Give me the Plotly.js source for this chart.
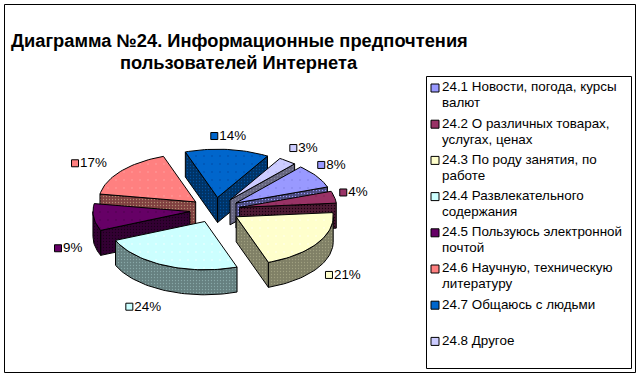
<!DOCTYPE html>
<html><head><meta charset="utf-8">
<script src="https://cdn.plot.ly/plotly-3.0.1.min.js"></script>
<style>html,body{margin:0;padding:0;background:#fff}#c{width:641px;height:377px}</style>
</head><body><div id="c"></div>
<script>
const categories = ["24.1 Новости, погода, курсы|валют","24.2 О различных товарах,|услугах, ценах","24.3 По роду занятия, по|работе","24.4 Развлекательного|содержания","24.5 Пользуюсь электронной|почтой","24.6 Научную, техническую|литературу","24.7 Общаюсь с людьми","24.8 Другое"];
const values = [8,4,21,24,9,17,14,3];
const topColors = ["#9999FF","#993366","#FFFFCC","#CCFFFF","#660066","#FF8080","#0066CC","#CCCCFF"];
const topDots = ["#7777DD","#77224D","#FFFFFF","#FFFFFF","#440044","#FFA8A8","#003F99","#AAAAEE"];
const sideColors = ["#4C4C80","#4D1A33","#808066","#668080","#330033","#804040","#003366","#666680"];
const sideDots = ["#9999FF","#1A0010","#A0A080","#88A8A8","#1A001A","#B08A70","#0050A0","#8888A0"];
const drawOrder = [5,4,6,7,0,1,2,3];
const labelNudgeX = [-3.7,-3.7,2.6,-10,7.3,-9.8,-0.9,4.1];
const labelNudgeY = [-3.4,-1.7,-0.6,3.2,4.4,1.4,0.5,-1.7];

const cx=215, cy=210, rx=97, ry=48.3, depth=25, explode=0.26, startDeg=-48.2;
const total = values.reduce((a,b)=>a+b,0);
const rad = d=>d*Math.PI/180;
let acc = startDeg;
const slices = values.map((v,i)=>{const a0=acc,a1=acc+v/total*360;acc=a1;return {i,a0,a1,mid:(a0+a1)/2};});

const traces=[];
function poly(xs,ys,fill,patt){
  const t={x:xs.concat(xs[0]),y:ys.concat(ys[0]),mode:'lines',fill:'toself',fillcolor:fill,
    line:{color:'#000',width:1},hoverinfo:'skip',showlegend:false,type:'scatter'};
  if(patt) t.fillpattern=patt;
  traces.push(t);
}
drawOrder.forEach(idx=>{
  const s=slices[idx];
  const ox=cx+explode*rx*Math.cos(rad(s.mid)), oy=cy+explode*ry*Math.sin(rad(s.mid));
  const pt=a=>[ox+rx*Math.cos(rad(a)),oy+ry*Math.sin(rad(a))];
  const n=Math.max(4,Math.ceil((s.a1-s.a0)/2));
  const arc=[];for(let k=0;k<=n;k++)arc.push(s.a0+(s.a1-s.a0)*k/n);
  const side=sideColors[idx];
  const sp={shape:'.',bgcolor:side,fgcolor:sideDots[idx],size:3,solidity:0.15};
  const wall=(a,sgn)=>{
    const p=pt(a); const ny=sgn*Math.cos(rad(a));
    if(ny>0){poly([ox,p[0],p[0],ox],[oy,p[1],p[1]+depth,oy+depth],side,sp);}
  };
  wall(s.a0,-1); wall(s.a1,1);
  const vis=arc.filter(a=>{const m=((a%360)+360)%360;return m<=180;});
  if(vis.length>1){
    const top=vis.map(pt);
    poly(top.map(p=>p[0]).concat(top.slice().reverse().map(p=>p[0])),
         top.map(p=>p[1]).concat(top.slice().reverse().map(p=>p[1]+depth)),side,sp);
  }
  const rim=arc.map(pt);
  poly([ox].concat(rim.map(p=>p[0])),[oy].concat(rim.map(p=>p[1])),topColors[idx],
    {shape:'.',bgcolor:topColors[idx],fgcolor:topDots[idx],size:8,solidity:0.02});
});
// data labels
const labelK=1.55;
const lx=[],ly=[],lt=[],lc=[];
slices.forEach(s=>{
  const c=Math.cos(rad(s.mid)),d=Math.sin(rad(s.mid));
  lx.push(cx+labelK*rx*c-15+labelNudgeX[s.i]);
  ly.push(cy+labelK*ry*d+(d>0?depth:0)+labelNudgeY[s.i]);
  lt.push(values[s.i]+'%'); lc.push(topColors[s.i]);
});
const font={family:'Liberation Sans',size:13.4,color:'#000'};
traces.push({type:'scatter',mode:'markers',x:lx,y:ly,
  marker:{symbol:'square',size:7,color:lc,line:{color:'#000',width:1}},hoverinfo:'skip',showlegend:false});
traces.push({type:'scatter',mode:'text',x:lx.map(v=>v+5),y:ly.map(v=>v+0.5),text:lt,textposition:'middle right',
  textfont:font,hoverinfo:'skip',showlegend:false});
// legend column: first lines with swatch, second lines 16px lower
const rowY=i=>88+36.2*i;
traces.push({type:'scatter',mode:'markers',
  x:categories.map(()=>435),y:categories.map((_,i)=>rowY(i)),
  marker:{symbol:'square',size:8,color:topColors,line:{color:'#000',width:1}},hoverinfo:'skip',showlegend:false});
const lines=[];
categories.forEach((c,i)=>c.split('|').forEach((t,j)=>lines.push({t,y:rowY(i)+16*j})));
traces.push({type:'scatter',mode:'text',
  x:lines.map(()=>442),y:lines.map(o=>o.y),text:lines.map(o=>o.t),textposition:'middle right',
  textfont:font,hoverinfo:'skip',showlegend:false});

const titleFont={family:'Liberation Sans',size:18.3,color:'#000'};
const layout={width:641,height:377,margin:{l:0,r:0,t:0,b:0},paper_bgcolor:'#fff',plot_bgcolor:'#fff',
  showlegend:false,
  xaxis:{range:[0,641],visible:false,fixedrange:true},
  yaxis:{range:[377,0],visible:false,fixedrange:true},
  shapes:[
    {type:'rect',xref:'x',yref:'y',x0:4.5,y0:4.5,x1:635.5,y1:372.5,line:{color:'#000',width:1},layer:'below'},
    {type:'rect',xref:'x',yref:'y',x0:426.5,y0:76.5,x1:631.5,y1:368.5,line:{color:'#000',width:1},layer:'below'}
  ],
  annotations:[
    {xref:'x',yref:'y',x:239,y:40.5,xanchor:'center',yanchor:'middle',showarrow:false,text:'<b>Диаграмма №24. Информационные предпочтения</b>',font:titleFont},
    {xref:'x',yref:'y',x:239,y:62.5,xanchor:'center',yanchor:'middle',showarrow:false,text:'<b>пользователей Интернета</b>',font:titleFont}
  ]
};
Plotly.newPlot('c',traces,layout,{displayModeBar:false,staticPlot:true});
</script></body></html>
